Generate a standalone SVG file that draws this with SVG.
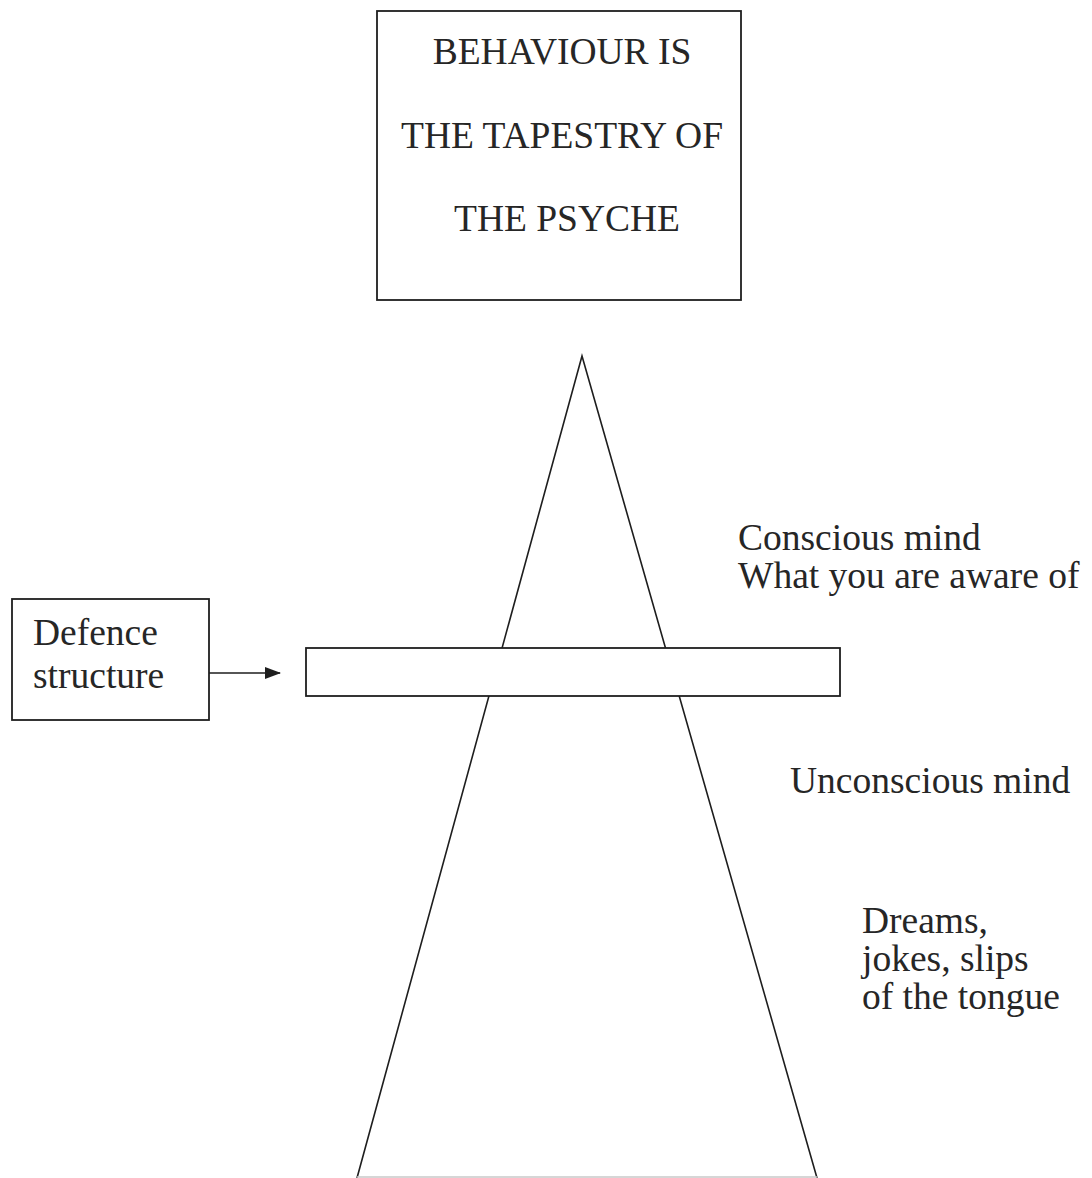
<svg xmlns="http://www.w3.org/2000/svg" width="1092" height="1178" viewBox="0 0 1092 1178">
  <style>
    .box { fill: #ffffff; stroke: #1e1e1e; stroke-width: 1.8; }
    .edge { fill: none; stroke: #1e1e1e; stroke-width: 1.6; }
    .label { font-family: "Liberation Serif", "Times New Roman", serif; font-size: 37.5px; fill: #262626; }
    .title { text-anchor: middle; }
  </style>
  <defs>
    <marker id="arrowhead" markerWidth="16" markerHeight="12" refX="15" refY="6" orient="auto" markerUnits="userSpaceOnUse">
      <path d="M0,0 L16,6 L0,12 Z" fill="#1e1e1e"/>
    </marker>
  </defs>
  <rect width="1092" height="1178" fill="#ffffff"/>

  <!-- title box -->
  <g id="title">
    <rect class="box" x="377" y="11" width="364" height="289"/>
    <text class="label title" x="562" y="64">BEHAVIOUR IS</text>
    <text class="label title" x="562" y="148">THE TAPESTRY OF</text>
    <text class="label title" x="567" y="231">THE PSYCHE</text>
  </g>

  <!-- the psyche as a cone, open at the base -->
  <g id="psyche">
    <path class="edge" d="M357,1178 L582,356 L817,1178"/>
    <line x1="357" y1="1177" x2="817" y2="1177" stroke="#c8c8c8" stroke-width="1.5"/>
  </g>

  <!-- defence bar across the cone -->
  <g id="defence-bar">
    <rect class="box" x="306" y="648" width="534" height="48"/>
  </g>

  <g id="defence-label">
    <rect class="box" x="12" y="599" width="197" height="121"/>
    <text class="label" x="33" y="645">Defence</text>
    <text class="label" x="33" y="688">structure</text>
  </g>

  <g id="conscious">
    <text class="label" x="738" y="550">Conscious mind</text>
    <text class="label" x="738" y="588">What you are aware of</text>
  </g>

  <g id="unconscious">
    <text class="label" x="790" y="793">Unconscious mind</text>
  </g>

  <g id="manifestations">
    <text class="label" x="862" y="933">Dreams,</text>
    <text class="label" x="862" y="971">jokes, slips</text>
    <text class="label" x="862" y="1009">of the tongue</text>
  </g>

  <!-- connectors -->
  <g id="connectors">
    <line class="edge" x1="209" y1="673" x2="280" y2="673" marker-end="url(#arrowhead)"/>
  </g>
</svg>
